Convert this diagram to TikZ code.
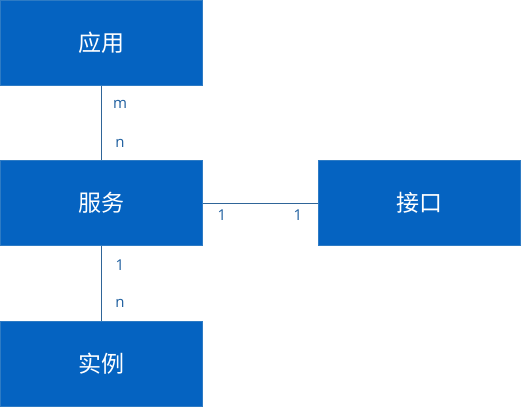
\documentclass[tikz,border=0pt]{standalone}
\usepackage{fontspec}
\setmainfont{Open Sans}
\newfontfamily\cjk{Noto Sans CJK SC}
\definecolor{boxblue}{HTML}{0563C1}
\definecolor{boxedge}{HTML}{2E7BC4}
\definecolor{linecol}{HTML}{2F6598}
\definecolor{labcol}{HTML}{1F5F9F}
\begin{document}
\begin{tikzpicture}[x=1pt,y=-1pt,
  entity/.style={draw=boxedge,line width=1pt,fill=boxblue,minimum width=202pt,minimum height=85pt,inner sep=0pt,text=white,font=\cjk\fontsize{23}{26}\selectfont},
  link/.style={draw=linecol,line width=1pt},
  card/.style={text=labcol,font=\fontsize{15}{17}\selectfont,inner sep=0pt}]
\useasboundingbox (0,0) rectangle (521,407);
\node[entity] (app) at (101.5,43) {应用};
\node[entity] (svc) at (101.5,203) {服务};
\node[entity] (itf) at (419,203) {接口};
\node[entity] (inst) at (101.5,363.5) {实例};
\draw[link] (app.south) -- (svc.north);
\draw[link] (svc.east) -- (itf.west);
\draw[link] (svc.south) -- (inst.north);
\node[card] (m1) at (120,104) {m};
\node[card] (n1) at (120,143) {n};
\node[card] (o1) at (222,215) {1};
\node[card] (o2) at (298,215) {1};
\node[card] (o3) at (120,265) {1};
\node[card] (n2) at (120,303) {n};
\end{tikzpicture}
\end{document}
